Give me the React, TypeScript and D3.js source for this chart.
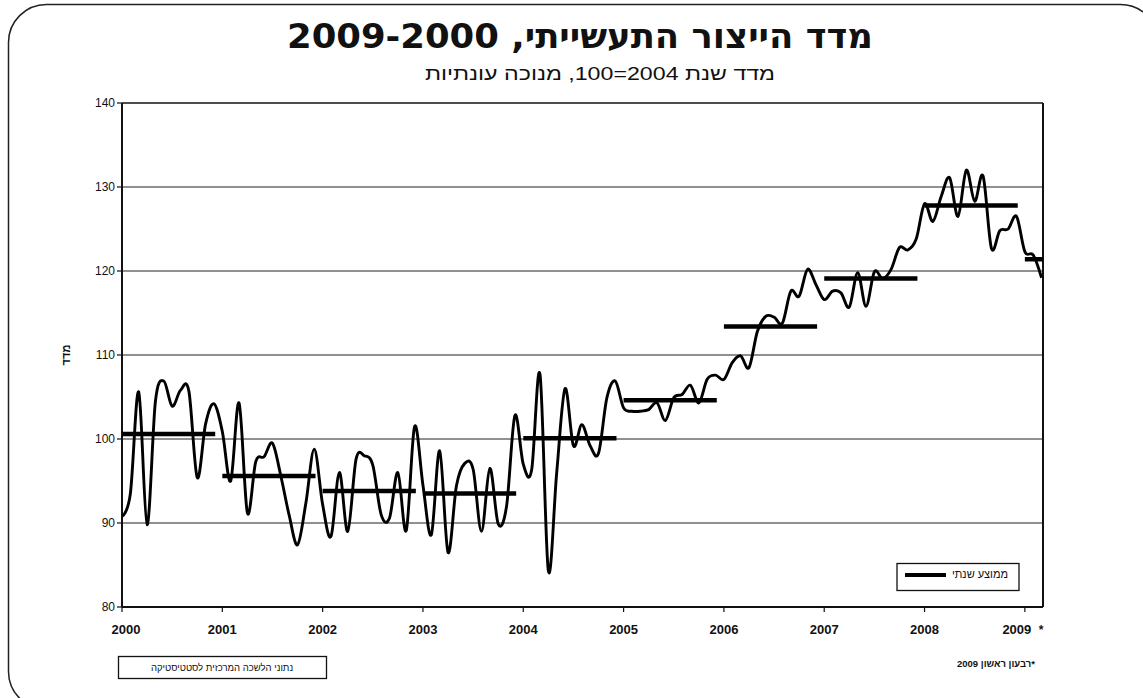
import React from "react";
import * as d3 from "d3";

// ---- data ----
const years = [2000, 2001, 2002, 2003, 2004, 2005, 2006, 2007, 2008, 2009];
const index2000 = [90.8, 93.5, 105.6, 89.8, 104.5, 106.9, 103.9, 105.8, 105.7, 95.4, 101.8, 104.2];
const index2001 = [100.9, 95.0, 104.3, 91.2, 97.3, 97.9, 99.5, 95.6, 90.9, 87.4, 92.4, 98.8];
const index2002 = [92.2, 88.4, 96.0, 89.0, 97.6, 98.0, 96.9, 91.0, 90.6, 96.0, 89.1, 101.5];
const index2003 = [94.5, 88.6, 98.6, 86.5, 94.4, 97.1, 96.4, 89.0, 96.5, 89.9, 92.0, 102.8];
const index2004 = [97.0, 96.3, 107.7, 84.3, 96.0, 106.0, 99.2, 101.7, 99.2, 98.3, 104.9, 106.9];
const index2005 = [103.7, 103.3, 103.3, 103.5, 104.3, 102.2, 104.9, 105.3, 106.4, 104.3, 107.1, 107.6];
const index2006 = [107.1, 109.1, 109.9, 108.5, 112.8, 114.6, 114.5, 113.8, 117.6, 117.0, 120.2, 118.4];
const index2007 = [116.6, 117.6, 117.4, 115.7, 119.8, 115.8, 119.9, 119.1, 120.2, 122.8, 122.5, 123.8];
const index2008 = [128.0, 125.9, 128.9, 131.1, 126.5, 132.0, 128.3, 131.3, 122.7, 124.8, 125.0, 126.5];
const index2009 = [122.3, 121.9, 119.2];
const annualAverage = [100.6, 95.6, 93.8, 93.5, 100.1, 104.6, 113.4, 119.1, 127.8, 121.4];
const yTicks = [80, 90, 100, 110, 120, 130, 140];

const titleText = "מדד הייצור התעשייתי, 2009-2000";
const subtitleText = "מדד שנת 2004=100, מנוכה עונתיות";
const yAxisTitle = "מדד";
const legendLabel = "ממוצע שנתי";
const sourceText = "נתוני הלשכה המרכזית לסטטיסטיקה";
const noteText = "*רבעון ראשון 2009";

const monthlyByYear = [index2000, index2001, index2002, index2003, index2004, index2005, index2006, index2007, index2008, index2009];

export default function App() {
  const W = 1143;
  const H = 698;
  const left = 122, right = 1043, top = 103, bottom = 607;
  const lastMonth = 110.17;

  const monthly: { m: number; v: number }[] = [];
  monthlyByYear.forEach((arr, yi) => arr.forEach((v, k) => monthly.push({ m: yi * 12 + k, v })));

  const x = d3.scaleLinear().domain([0, lastMonth]).range([left, right]);
  const y = d3.scaleLinear().domain([80, 140]).range([bottom, top]);

  const line = d3
    .line<{ m: number; v: number }>()
    .x((d) => x(d.m))
    .y((d) => y(d.v))
    .curve(d3.curveCatmullRom.alpha(0));

  const font = "'Liberation Sans', Arial, 'DejaVu Sans', sans-serif";
  const labelX = (i: number) => {
    const xm = x(i * 12);
    if (i === 0) return xm + 4;
    if (i === years.length - 1) return xm - 8;
    return xm;
  };

  return (
    <svg
      width={W}
      height={H}
      style={{ position: "absolute", left: 0, top: 0, background: "#fff" }}
      fontFamily={font}
    >
      <defs>
        <clipPath id="plotClip">
          <rect x={left} y={top} width={right - left} height={bottom - top} />
        </clipPath>
      </defs>

      {/* outer rounded frame */}
      <rect x={8.5} y={4.5} width={1150} height={705} rx={38} ry={38} fill="none" stroke="#222" strokeWidth={1.5} />

      {/* title */}
      <text x={580} y={48} fontSize={34} fontWeight="bold" textAnchor="middle" direction="rtl"
        textLength={586} lengthAdjust="spacingAndGlyphs"
        fontFamily="'DejaVu Sans', 'Liberation Sans', sans-serif" fill="#111">
        {titleText}
      </text>
      <text x={600} y={80} fontSize={19} textAnchor="middle" direction="rtl"
        textLength={350} lengthAdjust="spacingAndGlyphs" fill="#111">
        {subtitleText}
      </text>

      {/* gridlines */}
      {yTicks.filter((t) => t > 80 && t < 140).map((t) => (
        <line key={t} x1={left} x2={right} y1={y(t)} y2={y(t)} stroke="#222" strokeWidth={1} />
      ))}

      {/* plot frame */}
      <line x1={left} x2={right} y1={top} y2={top} stroke="#111" strokeWidth={1.6} />
      <line x1={right} x2={right} y1={top} y2={bottom} stroke="#111" strokeWidth={2} />
      <line x1={left} x2={right} y1={bottom} y2={bottom} stroke="#111" strokeWidth={2} />
      <line x1={left} x2={left} y1={top} y2={bottom} stroke="#111" strokeWidth={2} />

      {/* y ticks and labels */}
      {yTicks.map((t) => (
        <g key={t}>
          <line x1={left - 5} x2={left} y1={y(t)} y2={y(t)} stroke="#111" strokeWidth={1.2} />
          <text x={left - 7} y={y(t) + 4} fontSize={12} textAnchor="end" fill="#111">
            {t}
          </text>
        </g>
      ))}
      <text
        transform={`translate(70,${(top + bottom) / 2}) rotate(-90)`}
        fontSize={11}
        fontWeight="bold"
        textAnchor="middle"
        fill="#111"
      >
        {yAxisTitle}
      </text>

      {/* x ticks and labels */}
      {years.map((yr, i) => {
        const xm = x(i * 12);
        return (
          <g key={yr}>
            <line x1={xm} x2={xm} y1={bottom} y2={bottom + 5} stroke="#111" strokeWidth={1.2} />
            <text x={labelX(i)} y={634} fontSize={13} fontWeight="bold" textAnchor="middle" fill="#111">
              {yr}
            </text>
          </g>
        );
      })}
      <text x={1041} y={634} fontSize={12} fontWeight="bold" textAnchor="middle" fill="#111">*</text>

      {/* monthly index line */}
      <g clipPath="url(#plotClip)">
        <path d={line(monthly) || ""} fill="none" stroke="#000" strokeWidth={2.9} strokeLinejoin="round" />
      </g>

      {/* annual average bars */}
      {annualAverage.map((v, i) => (
        <line
          key={i}
          x1={x(i * 12)}
          x2={Math.min(x(i * 12 + 11.15), right)}
          y1={y(v)}
          y2={y(v)}
          stroke="#000"
          strokeWidth={4.5}
        />
      ))}

      {/* legend */}
      <rect x={897} y={563.5} width={122} height={27} fill="#fff" stroke="#111" strokeWidth={1.3} />
      <line x1={905} x2={946} y1={575} y2={575} stroke="#000" strokeWidth={4} />
      <text x={980} y={578} fontSize={11} textAnchor="middle" fill="#111">
        {legendLabel}
      </text>

      {/* source box */}
      <rect x={118.5} y={656.5} width={208} height={22} fill="#fff" stroke="#111" strokeWidth={1.3} />
      <text x={222} y={671} fontSize={9.5} textAnchor="middle" fill="#111">
        {sourceText}
      </text>

      {/* note */}
      <text x={996} y={667} fontSize={9.5} fontWeight="bold" textAnchor="middle" direction="rtl" fill="#111">
        {noteText}
      </text>
    </svg>
  );
}
